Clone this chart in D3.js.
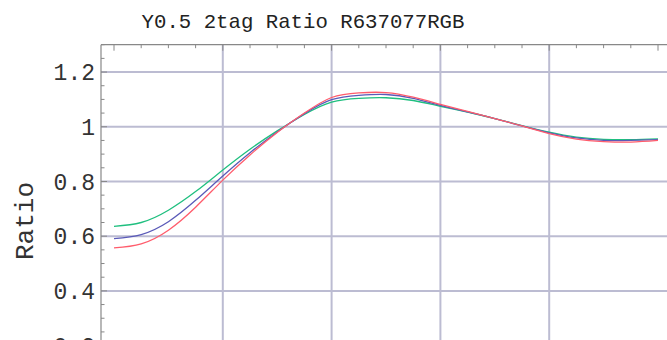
<!DOCTYPE html>
<html><head><meta charset="utf-8">
<script src="https://cdn.jsdelivr.net/npm/d3@7"></script>
<style>html,body{margin:0;padding:0;background:#fff;overflow:hidden}svg{display:block}</style>
</head><body>
<svg id="c" width="667" height="340"></svg>
<script>
const title = "Y0.5 2tag Ratio R637077RGB";
const yLabel = "Ratio";
const xs = [0,0.25,0.5,0.75,1,1.25,1.5,1.75,2,2.25,2.5,2.75,3,3.25,3.5,3.75,4,4.25,4.5,4.75,5];
const greenVals = [0.636,0.650,0.695,0.763,0.842,0.918,0.985,1.045,1.090,1.104,1.106,1.096,1.075,1.054,1.030,1.004,0.980,0.962,0.954,0.953,0.956];
const blueVals  = [0.591,0.606,0.653,0.731,0.820,0.905,0.981,1.048,1.099,1.115,1.118,1.104,1.078,1.054,1.030,1.003,0.978,0.959,0.950,0.950,0.953];
const redVals   = [0.557,0.572,0.622,0.706,0.805,0.897,0.979,1.050,1.107,1.124,1.125,1.108,1.082,1.056,1.030,1.003,0.975,0.955,0.946,0.944,0.950];
const yTicks = [0, 0.2, 0.4, 0.6, 0.8, 1, 1.2];
const yTickLabels = ["0","0.2","0.4","0.6","0.8","1","1.2"];
const xGrid = [1,2,3,4];

const svg = d3.select("#c");
const x = d3.scaleLinear().domain([0,5]).range([114,658]);
const y = d3.scaleLinear().domain([0,1.3]).range([400.3,44.7]);
const fLeft = 101, fTop = y(1.3), fRight = 700, fBottom = 420;

// grid
svg.append("g").selectAll("line").data(yTicks.filter(d=>d>0)).join("line")
  .attr("x1",fLeft).attr("x2",fRight).attr("y1",d=>y(d)).attr("y2",d=>y(d))
  .attr("stroke","#bcbcd2").attr("stroke-width",2);
svg.append("g").selectAll("line").data(xGrid).join("line")
  .attr("x1",d=>x(d)).attr("x2",d=>x(d)).attr("y1",fTop).attr("y2",fBottom)
  .attr("stroke","#bcbcd2").attr("stroke-width",2);

// frame
svg.append("line").attr("x1",fLeft).attr("x2",fRight).attr("y1",fTop).attr("y2",fTop).attr("stroke","#888").attr("stroke-width",1.2);
svg.append("line").attr("x1",fLeft).attr("x2",fLeft).attr("y1",fTop).attr("y2",fBottom).attr("stroke","#888").attr("stroke-width",1.2);

// y ticks
const yMinor = d3.range(0,1.301,0.05);
svg.append("g").selectAll("line").data(yMinor).join("line")
  .attr("x1",fLeft).attr("x2",d=>fLeft + (Math.abs(d*5-Math.round(d*5))<1e-6 ? 6 : 3.5))
  .attr("y1",d=>y(d)).attr("y2",d=>y(d)).attr("stroke","#888").attr("stroke-width",1);
// x ticks on top
const xMinor = d3.range(0,5.01,0.25);
svg.append("g").selectAll("line").data(xMinor).join("line")
  .attr("x1",d=>x(d)).attr("x2",d=>x(d))
  .attr("y1",fTop).attr("y2",d=>fTop + (Math.abs(d-Math.round(d))<1e-6 ? 6 : 3.5))
  .attr("stroke","#888").attr("stroke-width",1);

// y labels
svg.append("g").selectAll("text").data(yTicks).join("text")
  .attr("x",95).attr("y",d=>y(d)).attr("dy","0.36em").attr("text-anchor","end")
  .attr("font-family","'Liberation Mono', 'Courier New', monospace").attr("font-size",23).attr("fill","#333")
  .text((d,i)=>yTickLabels[i]);

// title
svg.append("text").attr("x",303).attr("y",28).attr("text-anchor","middle")
  .attr("font-family","'Liberation Mono', 'Courier New', monospace").attr("font-size",20.7).attr("fill","#222")
  .text(title);
// y axis label
svg.append("text").attr("transform","translate(33,221) rotate(-90)").attr("text-anchor","middle")
  .attr("font-family","'Liberation Mono', 'Courier New', monospace").attr("font-size",26).attr("fill","#333")
  .text(yLabel);

// curves
const line = d3.line().x(d=>x(d[0])).y(d=>y(d[1])).curve(d3.curveNatural);
const series = [
  {vals: greenVals, color: "#1fbf7f"},
  {vals: blueVals, color: "#5a5ab8"},
  {vals: redVals, color: "#ff5c6c"}
];
svg.append("g").selectAll("path").data(series).join("path")
  .attr("d",s=>line(xs.map((xv,i)=>[xv,s.vals[i]])))
  .attr("fill","none").attr("stroke",s=>s.color).attr("stroke-width",1.3);
</script>
</body></html>
